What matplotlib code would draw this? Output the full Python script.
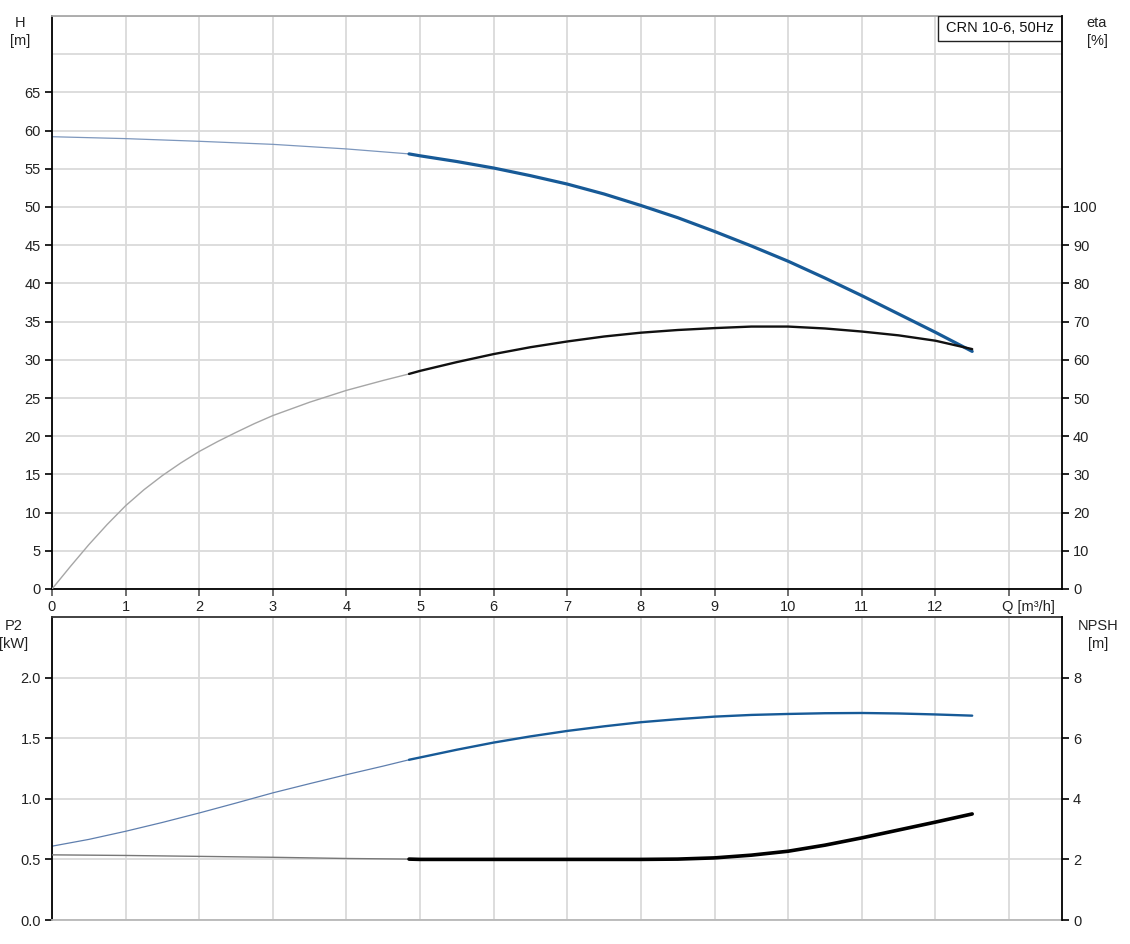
import numpy as np
import matplotlib
matplotlib.use("Agg")
import matplotlib.pyplot as plt
from matplotlib.patches import Rectangle
from matplotlib.transforms import ScaledTranslation

plt.rcParams['font.family'] = ['Liberation Sans', 'DejaVu Sans']
plt.rcParams['font.size'] = 10.5

# duty point split: thin line before, thick line after
q_split = 4.85

# head curve H [m]
q_h = [0, 1, 2, 3, 4, 4.85, 5, 5.5, 6, 6.5, 7, 7.5, 8, 8.5, 9, 9.5, 10, 10.5, 11, 11.5, 12, 12.5]
h_vals = [59.2, 58.95, 58.6, 58.2, 57.6, 56.95, 56.7, 55.95, 55.1, 54.1, 53.0, 51.7, 50.2, 48.6,
          46.8, 44.9, 42.9, 40.7, 38.4, 36.0, 33.6, 31.1]

# efficiency eta [%]
q_eta = [0, 0.25, 0.5, 0.75, 1, 1.25, 1.5, 1.75, 2, 2.25, 2.5, 2.75, 3, 3.5, 4, 4.5, 4.85, 5,
         5.5, 6, 6.5, 7, 7.5, 8, 8.5, 9, 9.5, 10, 10.5, 11, 11.5, 12, 12.5]
eta_vals = [0, 5.9, 11.6, 16.9, 21.8, 26.0, 29.7, 33.0, 36.0, 38.6, 41.0, 43.3, 45.4, 48.9, 52.0,
            54.6, 56.3, 57.1, 59.4, 61.5, 63.3, 64.8, 66.1, 67.1, 67.8, 68.3, 68.7, 68.7, 68.2,
            67.4, 66.4, 65.0, 62.8]

# power P2 [kW]
q_p2 = [0, 0.5, 1, 1.5, 2, 2.5, 3, 3.5, 4, 4.5, 4.85, 5, 5.5, 6, 6.5, 7, 7.5, 8, 8.5, 9, 9.5,
        10, 10.5, 11, 11.5, 12, 12.5]
p2_vals = [0.609, 0.665, 0.732, 0.805, 0.883, 0.965, 1.049, 1.125, 1.199, 1.27, 1.322, 1.341,
           1.405, 1.464, 1.515, 1.560, 1.598, 1.632, 1.657, 1.678, 1.692, 1.700, 1.706, 1.708,
           1.704, 1.696, 1.686]

# NPSH [m]
q_npsh = [0, 1, 2, 3, 4, 4.85, 5, 6, 7, 8, 8.5, 9, 9.5, 10, 10.5, 11, 11.5, 12, 12.5]
npsh_vals = [2.15, 2.13, 2.10, 2.07, 2.03, 2.01, 2.0, 2.0, 2.0, 2.0, 2.01, 2.05, 2.14, 2.27,
             2.47, 2.71, 2.97, 3.23, 3.50]

q_ticks = list(range(14))
q_ticklabels = [str(i) for i in range(13)] + ['Q [m³/h]']
title_box = 'CRN 10-6, 50Hz'

blue = '#175a97'
grid_col = '#dadada'


def split_plot(ax, q, v, thin_col, thick_col, thin_lw, thick_lw):
    q = np.array(q)
    v = np.array(v)
    a = q <= q_split
    b = q >= q_split
    ax.plot(q[a], v[a], color=thin_col, lw=thin_lw, solid_capstyle='round')
    ax.plot(q[b], v[b], color=thick_col, lw=thick_lw, solid_capstyle='round')


def style_axes(ax, ax2, top_col, bottom_col):
    ax.set_xlim(0, 13.72)
    ax.set_xticks(q_ticks)
    ax.grid(True, which='both', color=grid_col, lw=1.3)
    ax.set_axisbelow(True)
    ax.spines['left'].set_color('black')
    ax.spines['left'].set_linewidth(1.3)
    ax.spines['right'].set_visible(False)
    ax.spines['top'].set_color(top_col)
    ax.spines['top'].set_linewidth(1.3)
    ax.spines['bottom'].set_color(bottom_col)
    ax.spines['bottom'].set_linewidth(1.3)
    ax.tick_params(axis='y', direction='out', length=5, width=1.2, colors='black',
                   labelcolor='#222222', pad=3)
    ax.tick_params(which='minor', length=0)
    for s in ['left', 'top', 'bottom']:
        ax2.spines[s].set_visible(False)
    ax2.spines['right'].set_color('black')
    ax2.spines['right'].set_linewidth(1.3)
    ax2.tick_params(axis='y', direction='out', length=5, width=1.2, colors='black',
                    labelcolor='#222222', pad=3)


fig = plt.figure(figsize=(11.3, 9.44), dpi=100)
W, H = 1130, 944

# top chart: H and eta
ax1 = fig.add_axes([52 / W, 1 - 589 / H, 1010 / W, 573 / H])
ax1b = ax1.twinx()
ax1.set_ylim(0, 75)
ax1.set_yticks(np.arange(0, 66, 5))
ax1.set_yticks([70, 75], minor=True)
ax1b.set_ylim(0, 150)
ax1b.set_yticks(np.arange(0, 101, 10))
style_axes(ax1, ax1b, '#a8a8a8', 'black')
ax1.set_xticklabels(q_ticklabels)
ax1.tick_params(axis='x', direction='out', length=5, width=1.2, colors='#555555',
                labelcolor='#222222', pad=3)
qlab = ax1.get_xticklabels()[-1]
qlab.set_horizontalalignment('left')
qlab.set_transform(qlab.get_transform() + ScaledTranslation(-0.07, 0, fig.dpi_scale_trans))

split_plot(ax1b, q_eta, eta_vals, '#a6a6a6', '#111111', 1.0, 1.7)
split_plot(ax1, q_h, h_vals, '#7d97bd', blue, 0.9, 2.3)

ax1.add_patch(Rectangle((886 / 1010, 1 - 25 / 573), 124 / 1010, 25 / 573,
                        transform=ax1.transAxes, facecolor='white', edgecolor='#222222',
                        lw=1.0, zorder=5))
ax1.text(948 / 1010, 1 - 12.5 / 573, title_box, transform=ax1.transAxes, ha='center',
         va='center', fontsize=10.5, color='#111111', zorder=6)

# bottom chart: P2 and NPSH
ax2 = fig.add_axes([52 / W, 1 - 920 / H, 1010 / W, 303 / H])
ax2b = ax2.twinx()
ax2.set_ylim(0, 2.5)
ax2.set_yticks([0, 0.5, 1.0, 1.5, 2.0])
ax2.set_yticklabels(['0.0', '0.5', '1.0', '1.5', '2.0'])
ax2b.set_ylim(0, 10)
ax2b.set_yticks([0, 2, 4, 6, 8])
style_axes(ax2, ax2b, '#333333', '#b8b8b8')
ax2.tick_params(axis='x', length=0, labelbottom=False)

split_plot(ax2, q_p2, p2_vals, '#5f7fae', blue, 0.9, 1.7)
split_plot(ax2b, q_npsh, npsh_vals, '#777777', '#000000', 1.0, 2.6)

# axis titles
lab = dict(ha='center', va='center', fontsize=10.5, color='#222222', linespacing=1.45)
fig.text(20 / W, 1 - 32 / H, 'H\n[m]', **lab)
fig.text(1097 / W, 1 - 32 / H, 'eta\n[%]', **lab)
fig.text(14 / W, 1 - 635 / H, 'P2\n[kW]', **lab)
fig.text(1098 / W, 1 - 635 / H, 'NPSH\n[m]', **lab)

fig.savefig('out.png', dpi=100)
